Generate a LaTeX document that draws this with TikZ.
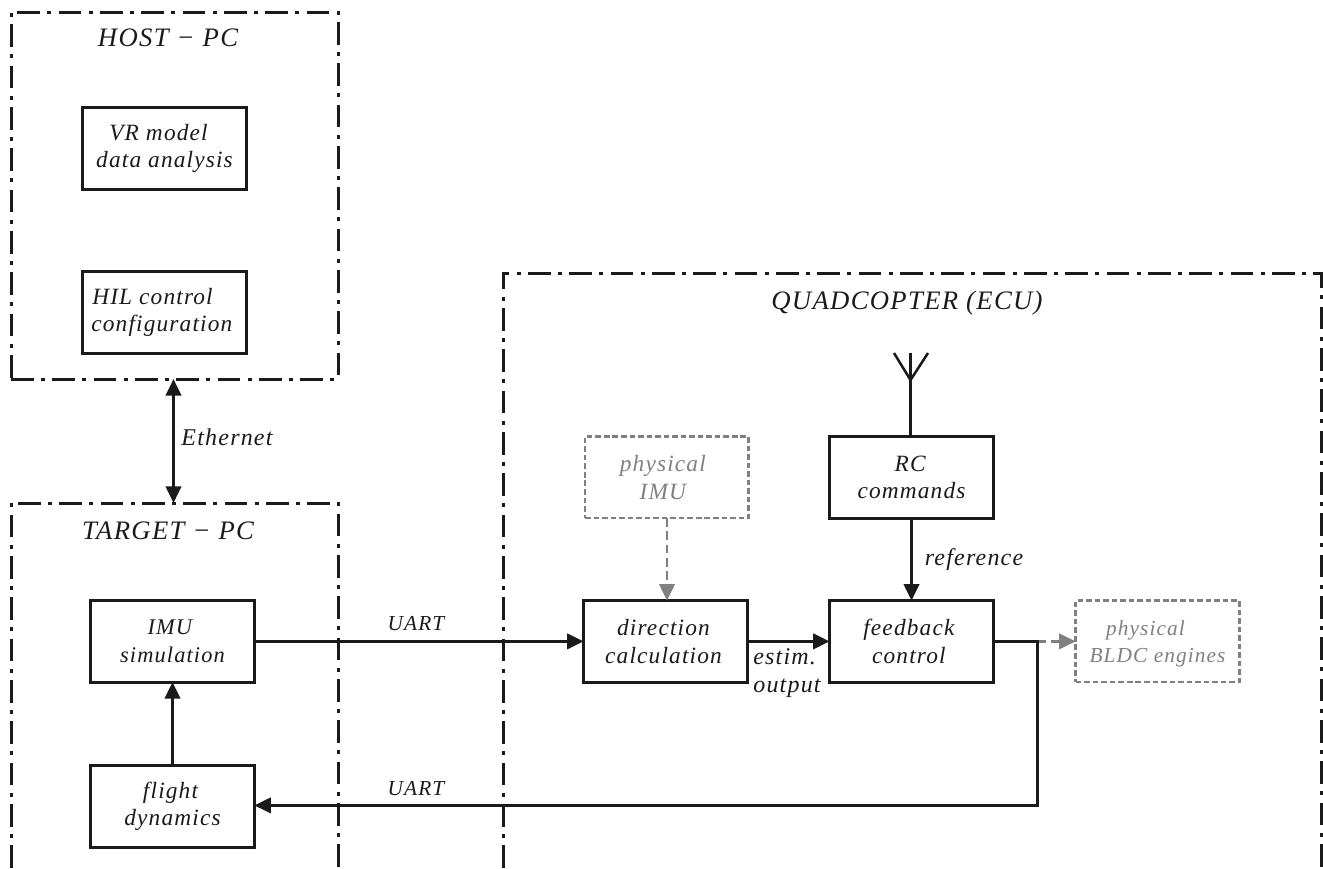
\documentclass[tikz,border=0pt]{standalone}
\usepackage{fontspec}
\setmainfont{Liberation Serif}[LetterSpace=5]
\usetikzlibrary{arrows.meta}
\definecolor{ink}{RGB}{26,26,26}
\definecolor{soft}{RGB}{128,128,128}
\newcommand\padr[1]{\rule{#1pt}{0pt}}
\tikzset{
  x=0.75pt,y=-0.75pt,
  every node/.style={font=\fontsize{17.5}{20.5}\selectfont\itshape,text=ink,inner sep=0pt,outer sep=0pt,align=center},
  blk/.style={draw=ink,line width=2.2pt,minimum width=122.7pt,minimum height=61pt,anchor=north west,line join=miter},
  ghost/.style={draw=soft,text=soft,line width=1.9pt,dash pattern=on 4.2pt off 2.2pt,minimum width=122.7pt,minimum height=61pt,anchor=north west},
  frame/.style={draw=ink,line width=2.25pt,dash pattern=on 17pt off 5.5pt on 3pt off 5.5pt},
  tip/.style={-{Triangle[length=12.5pt,width=11.5pt]}},
  conn/.style={draw=ink,line width=2.2pt,tip},
  softconn/.style={draw=soft,line width=2.1pt,dash pattern=on 6.5pt off 3.5pt,-{Triangle[length=12.5pt,width=11.5pt,fill=soft]}},
  lab/.style={font=\fontsize{18}{20.5}\selectfont\itshape},
  lup/.style={font=\fontsize{16}{19}\selectfont\itshape},
  ttl/.style={font=\fontsize{20}{24}\selectfont\itshape},
}
\begin{document}
\begin{tikzpicture}
\useasboundingbox (0,0) rectangle (1323,868);
% frames
\node[frame,minimum width=245.25pt,minimum height=275.25pt,anchor=north west] (host) at (11,12) {};
\coordinate (tbl) at (11,868); \coordinate (ttl) at (11,503); \coordinate (ttr) at (338,503); \coordinate (tbr) at (338,868);
\draw[frame] (tbl) -- (ttl) -- (ttr) -- (tbr);
\coordinate (qbl) at (503,868); \coordinate (qtl) at (503,273); \coordinate (qtr) at (1321,273); \coordinate (qbr) at (1321,868);
\draw[frame] (qbl) -- (qtl) -- (qtr) -- (qbr);
\node[ttl] (hostt) at (168,38) {HOST − PC};
\node[ttl] (targt) at (168,531) {TARGET − PC};
\node[ttl] (quadt) at (907,303) {QUADCOPTER (ECU)};
% blocks
\node[blk] (vr) at (82.7,107.7) {VR model\padr{9}\\data analysis};
\node[blk] (hil) at (82.7,271.7) {HIL control\padr{18}\\configuration\padr{4}};
\node[blk,font=\fontsize{16.8}{20.5}\selectfont\itshape] (imu) at (90.7,600.7) {IMU\padr{4}\\simulation};
\node[blk] (fly) at (90.7,765.7) {flight\padr{3}\\dynamics};
\node[blk] (dir) at (583.7,600.7) {direction\padr{3}\\calculation\padr{3}};
\node[blk] (fb) at (829.7,600.7) {feedback\padr{4}\\control\padr{4}};
\node[blk] (rc) at (829.7,436.7) {RC\padr{2}\\commands};
\node[ghost] (pimu) at (585,436.7) {physical\padr{6}\\IMU\padr{6}};
\node[ghost,font=\fontsize{16}{20.5}\selectfont\itshape] (bldc) at (1075.7,600.7) {\rule{0pt}{15pt}physical\padr{18}\\BLDC engines};
% connectors
\draw[conn,{Triangle[length=12.5pt,width=11.5pt]}-{Triangle[length=12.5pt,width=11.5pt]}] (host.south -| 173.5,0) -- (ttl -| 173.5,0);
\draw[conn] (imu) -- (dir);
\draw[conn] (dir) -- (fb);
\draw[conn] (fly.north -| 172.5,0) -- (imu.south -| 172.5,0);
\draw[conn] (rc) -- (fb);
\draw[softconn] (pimu.south -| 667,0) -- (dir.north -| 667,0);
\coordinate (low) at (1037.4,805.4);
\coordinate (tap) at (fb.east -| low);
\draw[softconn] (tap) -- (bldc.west);
\draw[conn,line width=2.4pt] (fb.east) -- (tap) -- (low) -- (fly.east |- low);
% antenna
\coordinate (ant) at (910.5,380);
\coordinate (antl) at (894,353);
\coordinate (antr) at (928,353);
\coordinate (antm) at (910.5,353);
\draw[draw=ink,line width=1.9pt] (rc.north -| ant) -- (antm);
\draw[draw=ink,line width=1.9pt] (antl) -- (ant) -- (antr);
% labels
\node[lab] (leth) at (227,437) {Ethernet};
\node[lup] (luart1) at (416,624) {UART};
\node[lup] (luart2) at (416,789) {UART};
\node[lab] (lref) at (974,560) {reference};
\node[lab,align=left] (lest) at (787,673) {estim.\\output};
\end{tikzpicture}
\end{document}
